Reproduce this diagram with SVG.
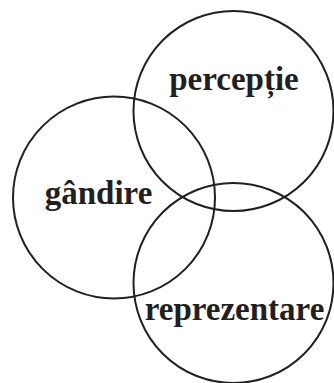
<svg xmlns="http://www.w3.org/2000/svg" width="334" height="383" viewBox="0 0 334 383">
<style>
.c{fill:none;stroke:#231f20;stroke-width:2}
.t{font-family:"Liberation Serif","Times New Roman",serif;font-weight:bold;font-size:33px;fill:#231f20;text-anchor:middle}
</style>
<rect width="334" height="383" fill="#fff"/>
<g id="perceptie"><circle class="c" cx="233.5" cy="111" r="100"/><text class="t" x="234" y="90">percepție</text></g>
<g id="gandire"><circle class="c" cx="114" cy="197.5" r="101"/><text class="t" x="98.5" y="204">gândire</text></g>
<g id="reprezentare"><circle class="c" cx="233.5" cy="283" r="100"/><text class="t" x="234.5" y="320">reprezentare</text></g>
<g id="connectors"/>
</svg>
